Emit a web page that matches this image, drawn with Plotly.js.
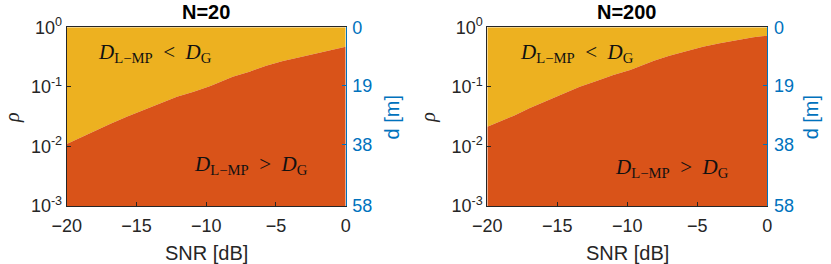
<!DOCTYPE html>
<html><head><meta charset="utf-8">
<script src="https://cdn.plot.ly/plotly-3.0.1.min.js"></script>
<style>html,body{margin:0;padding:0;background:#fff}#c{width:831px;height:264px}</style>
</head><body><div id="c"></div>
<script>
// Data (boundary between the two regions)
const snrN20  = [-20, -19.3, -18.1, -16.9, -15.7, -14.5, -13.3, -12.1, -10.9, -9.7, -8.1, -6.9, -5.7, -4.5, -3.3, -2.1, -0.9, 0];
const rhoN20  = [0.0110, 0.0132, 0.0177, 0.0239, 0.0316, 0.0410, 0.0531, 0.0685, 0.0830, 0.1035, 0.148, 0.180, 0.227, 0.272, 0.314, 0.366, 0.432, 0.472];
const snrN200 = [-20, -19.3, -18.1, -17.0, -15.8, -14.6, -13.4, -12.2, -11.0, -9.8, -8.1, -7.0, -5.8, -4.6, -3.4, -2.2, -1.0, 0];
const rhoN200 = [0.0215, 0.0251, 0.0329, 0.0438, 0.0580, 0.0781, 0.1008, 0.1256, 0.1584, 0.192, 0.275, 0.334, 0.400, 0.472, 0.539, 0.612, 0.680, 0.723];
const titles = ["N=20", "N=200"];
const rhoTicks = [0.001, 0.01, 0.1, 1];
const rhoTickText = ["10<sup>-3</sup>", "10<sup>-2</sup>", "10<sup>-1</sup>", "10<sup>0</sup>"];
const snrTicks = [-20, -15, -10, -5, 0];
const dTicks = [0, 19, 38, 58];
const rhoMin = 0.001, rhoMax = 1, snrMin = -20, snrMax = 0, dMax = 58;

const YEL = '#EDB120', ORA = '#D95319', BLUE = '#0072BD', INK = '#262626';
const SANS = 'Liberation Sans, Arial, sans-serif';

function regions(x, y, xa, ya) {
  const below = {
    x: x.concat([snrMax, snrMin]), y: y.concat([rhoMin, rhoMin]),
    xaxis: xa, yaxis: ya, type: 'scatter', mode: 'lines', fill: 'toself',
    fillcolor: ORA, line: {width: 0, color: ORA}, hoverinfo: 'skip', showlegend: false
  };
  const above = {
    x: x.concat([snrMax, snrMin]), y: y.concat([rhoMax, rhoMax]),
    xaxis: xa, yaxis: ya, type: 'scatter', mode: 'lines', fill: 'toself',
    fillcolor: YEL, line: {width: 0, color: YEL}, hoverinfo: 'skip', showlegend: false
  };
  return [above, below];
}
function dAxisTrace(xa, ya) {
  return {x: [snrMin, snrMax], y: [0, dMax], xaxis: xa, yaxis: ya, type: 'scatter',
          mode: 'lines', line: {width: 0}, hoverinfo: 'skip', showlegend: false, opacity: 0};
}

const data = [].concat(
  regions(snrN20, rhoN20, 'x', 'y'),
  regions(snrN200, rhoN200, 'x2', 'y2'),
  [dAxisTrace('x', 'y3'), dAxisTrace('x2', 'y4')]
);

const tickFont = {family: SANS, size: 18, color: INK};
const yDom = [0.2197, 0.8966];
function xAxis(dom, anchor) {
  return {domain: dom, anchor: anchor, range: [snrMin, snrMax], tickvals: snrTicks,
    ticks: 'inside', ticklen: 4, tickcolor: INK, showline: true, linecolor: INK, linewidth: 1,
    mirror: true, showgrid: false, zeroline: false, tickfont: tickFont, ticklabelstandoff: 3};
}
function yAxis(anchor) {
  return {domain: yDom, anchor: anchor, type: 'log', range: [-3, 0], tickvals: rhoTicks,
    ticktext: rhoTickText, ticks: 'inside', ticklen: 4, tickcolor: INK, showline: true,
    linecolor: INK, linewidth: 1, showgrid: false, zeroline: false, tickfont: tickFont};
}
function dAxis(anchor, overlay) {
  return {domain: yDom, anchor: anchor, overlaying: overlay, side: 'right', range: [dMax, 0],
    tickvals: dTicks, ticks: 'inside', ticklen: 4, tickcolor: BLUE, showline: true,
    linecolor: BLUE, linewidth: 1, showgrid: false, zeroline: false,
    tickfont: {family: SANS, size: 18, color: BLUE}, ticklabelstandoff: 2};
}

const annFont = {family: 'Liberation Serif, serif', size: 21, color: '#111'};
const lt = '<i>D</i><sub>L−MP</sub>&nbsp;&nbsp;&lt;&nbsp;&nbsp;<i>D</i><sub>G</sub>';
const gt = '<i>D</i><sub>L−MP</sub>&nbsp;&nbsp;&gt;&nbsp;&nbsp;<i>D</i><sub>G</sub>';
const labelFont = {family: SANS, size: 20, color: INK};
const annotations = [
  {text: lt, x: -13.7, y: -0.43, xref: 'x', yref: 'y', showarrow: false, font: annFont},
  {text: gt, x: -6.8, y: -2.31, xref: 'x', yref: 'y', showarrow: false, font: annFont},
  {text: lt, x: -13.6, y: -0.43, xref: 'x2', yref: 'y2', showarrow: false, font: annFont},
  {text: gt, x: -6.8, y: -2.36, xref: 'x2', yref: 'y2', showarrow: false, font: annFont},
  {text: '<b>' + titles[0] + '</b>', x: -10, y: 0.955, xref: 'x', yref: 'paper', yanchor: 'middle',
   showarrow: false, font: {family: SANS, size: 20, color: '#000'}},
  {text: '<b>' + titles[1] + '</b>', x: -10, y: 0.955, xref: 'x2', yref: 'paper', yanchor: 'middle',
   showarrow: false, font: {family: SANS, size: 20, color: '#000'}},
  {text: 'SNR [dB]', x: -10, y: 0.0417, xref: 'x', yref: 'paper', yanchor: 'middle', showarrow: false, font: labelFont},
  {text: 'SNR [dB]', x: -10, y: 0.0417, xref: 'x2', yref: 'paper', yanchor: 'middle', showarrow: false, font: labelFont},
  {text: '<i>ρ</i>', x: 0.0156, y: 0.557, xref: 'paper', yref: 'paper', xanchor: 'center', yanchor: 'middle',
   textangle: -90, showarrow: false, font: {family: 'Liberation Serif, serif', size: 20, color: INK}},
  {text: '<i>ρ</i>', x: 0.516, y: 0.557, xref: 'paper', yref: 'paper', xanchor: 'center', yanchor: 'middle',
   textangle: -90, showarrow: false, font: {family: 'Liberation Serif, serif', size: 20, color: INK}},
  {text: 'd [m]', x: 0.4717, y: 0.555, xref: 'paper', yref: 'paper', xanchor: 'center', yanchor: 'middle',
   textangle: -90, showarrow: false, font: {family: SANS, size: 20, color: BLUE}},
  {text: 'd [m]', x: 0.977, y: 0.555, xref: 'paper', yref: 'paper', xanchor: 'center', yanchor: 'middle',
   textangle: -90, showarrow: false, font: {family: SANS, size: 20, color: BLUE}}
];

const layout = {
  width: 831, height: 264, margin: {l: 0, r: 0, t: 0, b: 0},
  paper_bgcolor: '#fff', plot_bgcolor: '#fff', showlegend: false,
  xaxis: xAxis([0.0803, 0.4160], 'y'),
  xaxis2: xAxis([0.5864, 0.9234], 'y2'),
  yaxis: yAxis('x'),
  yaxis2: yAxis('x2'),
  yaxis3: dAxis('x', 'y'),
  yaxis4: dAxis('x2', 'y2'),
  annotations: annotations
};
Plotly.newPlot('c', data, layout, {displayModeBar: false, staticPlot: true});
</script></body></html>
